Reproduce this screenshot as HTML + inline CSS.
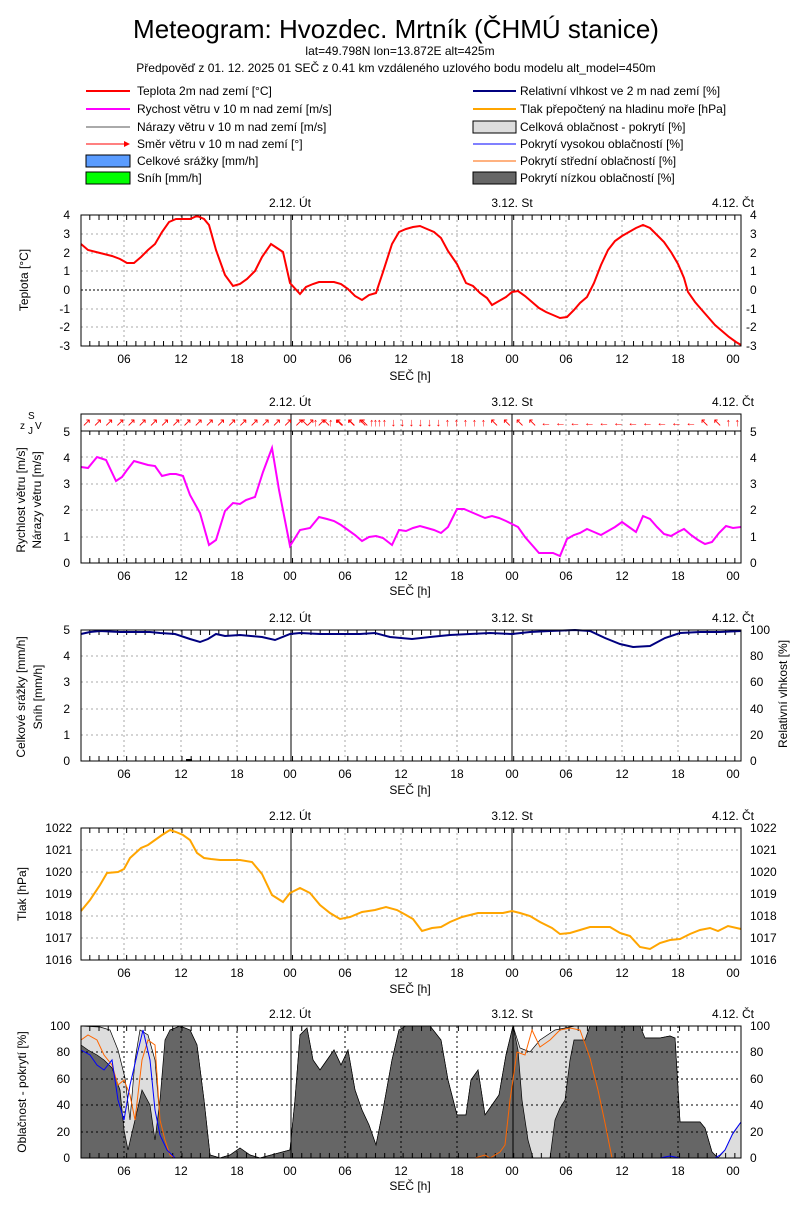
<!DOCTYPE html>
<html><head><meta charset="utf-8"><style>
body{margin:0;background:#fff}
svg text{font-family:"Liberation Sans",sans-serif;font-size:12px;fill:#000}
</style></head><body>
<svg width="800" height="1200" xmlns="http://www.w3.org/2000/svg">
<defs>
<pattern id="hx" x="89.3" y="0" width="9.215" height="20" patternUnits="userSpaceOnUse"><rect width="1" height="20" fill="#000"/></pattern>
</defs>
<rect width="800" height="1200" fill="#fff"/>
<text x="396" y="38" text-anchor="middle" style="font-size:26px">Meteogram: Hvozdec. Mrtník (ČHMÚ stanice)</text>
<text x="400" y="55" text-anchor="middle">lat=49.798N lon=13.872E alt=425m</text>
<text x="396" y="72" text-anchor="middle">Předpověď z 01. 12. 2025 01 SEČ z 0.41 km vzdáleného uzlového bodu modelu alt_model=450m</text>
<!-- legend -->
<g stroke-width="2">
<line x1="86" y1="91" x2="130" y2="91" stroke="#f00"/>
<line x1="86" y1="109" x2="130" y2="109" stroke="#f0f"/>
<line x1="86" y1="127" x2="130" y2="127" stroke="#555" stroke-width="1"/>
<line x1="86" y1="144" x2="128" y2="144" stroke="#f00" stroke-width="1"/>
<line x1="473" y1="91" x2="516" y2="91" stroke="#00007f"/>
<line x1="473" y1="109" x2="516" y2="109" stroke="#ffa500"/>
<line x1="473" y1="144" x2="516" y2="144" stroke="#00f" stroke-width="1"/>
<line x1="473" y1="161" x2="516" y2="161" stroke="#f60" stroke-width="1"/>
</g>
<polygon points="124,141 130,144 124,147" fill="#f00"/>
<rect x="86" y="155" width="44" height="12" fill="#5a9cff" stroke="#000"/>
<rect x="86" y="172" width="44" height="12" fill="#0f0" stroke="#000"/>
<rect x="473" y="121" width="43" height="12" fill="#ddd" stroke="#000"/>
<rect x="473" y="172" width="43" height="12" fill="#666" stroke="#000"/>
<text x="137" y="95">Teplota 2m nad zemí [°C]</text>
<text x="137" y="113">Rychost větru v 10 m nad zemí [m/s]</text>
<text x="137" y="131">Nárazy větru v 10 m nad zemí [m/s]</text>
<text x="137" y="148">Směr větru v 10 m nad zemí [°]</text>
<text x="137" y="165">Celkové srážky [mm/h]</text>
<text x="137" y="182">Sníh [mm/h]</text>
<text x="520" y="95">Relativní vlhkost ve 2 m nad zemí [%]</text>
<text x="520" y="113">Tlak přepočtený na hladinu moře [hPa]</text>
<text x="520" y="131">Celková oblačnost - pokrytí [%]</text>
<text x="520" y="148">Pokrytí vysokou oblačností [%]</text>
<text x="520" y="165">Pokrytí střední oblačností [%]</text>
<text x="520" y="182">Pokrytí nízkou oblačností [%]</text>

<!-- ===== Panel 1 Temperature ===== -->
<g stroke="#aaa" stroke-dasharray="2,3">
<line x1="124" y1="215" x2="124" y2="346"/><line x1="181" y1="215" x2="181" y2="346"/><line x1="237" y1="215" x2="237" y2="346"/><line x1="345" y1="215" x2="345" y2="346"/><line x1="401" y1="215" x2="401" y2="346"/><line x1="457" y1="215" x2="457" y2="346"/><line x1="566" y1="215" x2="566" y2="346"/><line x1="622" y1="215" x2="622" y2="346"/><line x1="678" y1="215" x2="678" y2="346"/>
<line x1="81" y1="234" x2="741" y2="234"/><line x1="81" y1="253" x2="741" y2="253"/><line x1="81" y1="271" x2="741" y2="271"/><line x1="81" y1="309" x2="741" y2="309"/><line x1="81" y1="327" x2="741" y2="327"/>
</g>
<g stroke="#000"><line x1="291" y1="215" x2="291" y2="346"/><line x1="512" y1="215" x2="512" y2="346"/></g>
<rect x="81" y="341" width="660" height="5" fill="url(#hx)"/><rect x="81" y="215" width="660" height="5" fill="url(#hx)"/>
<line x1="81" y1="290" x2="741" y2="290" stroke="#000" stroke-dasharray="2,2"/>
<polyline fill="none" stroke="#f00" stroke-width="2" points="81,244 88,250 100,253 112,256 120,259 127,263 134,263 141,257 148,250 155,244 162,232 169,222 176,219 183,219 190,219 197,216 204,219 209,225 216,250 225,275 233,286 240,284 247,279 255,271 262,257 271,244 277,248 283,252 290,283 300,294 306,287 313,284 319,282 327,282 334,282 341,284 348,289 355,296 362,300 369,295 376,293 383,272 392,244 399,232 406,229 413,227 420,226 427,229 434,232 441,238 448,251 457,264 466,283 473,286 480,293 487,298 492,305 499,301 506,297 512,292 518,291 525,296 532,302 539,308 546,312 553,315 560,318 567,317 574,310 580,303 587,297 594,283 601,265 608,250 615,241 622,236 629,232 636,228 643,225 650,228 657,235 664,242 671,252 678,264 684,278 688,292 695,302 701,309 708,317 715,325 722,331 729,337 736,342 741,345"/>
<rect x="81" y="215" width="660" height="131" fill="none" stroke="#000"/>
<g text-anchor="end"><text x="70" y="219">4</text><text x="70" y="238">3</text><text x="70" y="257">2</text><text x="70" y="275">1</text><text x="70" y="294">0</text><text x="70" y="313">-1</text><text x="70" y="331">-2</text><text x="70" y="350">-3</text></g>
<g><text x="750" y="219">4</text><text x="750" y="238">3</text><text x="750" y="257">2</text><text x="750" y="275">1</text><text x="750" y="294">0</text><text x="746" y="313">-1</text><text x="746" y="331">-2</text><text x="746" y="350">-3</text></g>
<g text-anchor="middle"><text x="124" y="363">06</text><text x="181" y="363">12</text><text x="237" y="363">18</text><text x="290" y="363">00</text><text x="345" y="363">06</text><text x="401" y="363">12</text><text x="457" y="363">18</text><text x="512" y="363">00</text><text x="566" y="363">06</text><text x="622" y="363">12</text><text x="678" y="363">18</text><text x="733" y="363">00</text>
<text x="410" y="380">SEČ [h]</text>
<text x="290" y="207">2.12. Út</text><text x="512" y="207">3.12. St</text><text x="733" y="207">4.12. Čt</text></g>
<text transform="translate(28,280) rotate(-90)" text-anchor="middle">Teplota [°C]</text>

<!-- ===== Panel 2 Wind ===== -->
<g stroke="#aaa" stroke-dasharray="2,3">
<line x1="124" y1="414" x2="124" y2="563"/><line x1="181" y1="414" x2="181" y2="563"/><line x1="237" y1="414" x2="237" y2="563"/><line x1="345" y1="414" x2="345" y2="563"/><line x1="401" y1="414" x2="401" y2="563"/><line x1="457" y1="414" x2="457" y2="563"/><line x1="566" y1="414" x2="566" y2="563"/><line x1="622" y1="414" x2="622" y2="563"/><line x1="678" y1="414" x2="678" y2="563"/>
<line x1="81" y1="457" x2="741" y2="457"/><line x1="81" y1="484" x2="741" y2="484"/><line x1="81" y1="510" x2="741" y2="510"/><line x1="81" y1="537" x2="741" y2="537"/>
</g>
<g stroke="#000"><line x1="291" y1="414" x2="291" y2="563"/><line x1="512" y1="414" x2="512" y2="563"/></g>
<rect x="81" y="558" width="660" height="5" fill="url(#hx)"/><rect x="81" y="431" width="660" height="4" fill="url(#hx)"/>
<text x="82" y="426" style="font-size:11px;fill:#f00" textLength="300" lengthAdjust="spacing">↗↗↗↗↗↗↗↗↗↗↗↗↗↗↗↗↗↗↗↗↗↗↑↖↖↖↑↑</text>
<text x="300" y="426" style="font-size:11px;fill:#f00" textLength="440" lengthAdjust="spacing">↖↑↖↖↖↖↑↑↓↓↓↓↓↓↑↑↑↑↑↖↖↖↖←←←←←←←←←←←↖↖↑↑</text>
<line x1="81" y1="431" x2="741" y2="431" stroke="#000"/>
<polyline fill="none" stroke="#f0f" stroke-width="2" points="81,467 88,468 97,457 106,460 116,481 122,477 127,470 134,461 141,463 148,465 155,466 162,476 170,474 176,474 183,476 190,495 200,513 209,545 216,540 225,511 233,503 240,504 246,500 255,497 263,472 272,448 279,490 290,546 300,530 310,528 319,517 327,519 334,521 341,525 348,530 355,535 362,541 369,537 376,536 383,538 392,545 399,530 406,531 413,528 420,526 427,528 434,530 441,533 448,527 457,509 464,509 471,512 478,515 485,518 492,516 499,518 506,521 512,524 518,527 525,537 532,545 539,553 546,553 553,553 560,556 567,539 574,535 580,533 587,529 594,532 601,535 608,531 615,527 622,522 629,527 636,532 643,516 650,519 657,527 664,534 671,536 678,532 684,529 691,535 698,540 705,544 712,542 719,533 726,526 733,528 741,527"/>
<rect x="81" y="414" width="660" height="149" fill="none" stroke="#000"/>
<g text-anchor="end"><text x="70" y="436">5</text><text x="70" y="462">4</text><text x="70" y="488">3</text><text x="70" y="514">2</text><text x="70" y="541">1</text><text x="70" y="567">0</text></g>
<g><text x="750" y="436">5</text><text x="750" y="462">4</text><text x="750" y="488">3</text><text x="750" y="514">2</text><text x="750" y="541">1</text><text x="750" y="567">0</text></g>
<text x="20" y="429" style="font-size:10px">z</text><text x="28" y="419" style="font-size:10px">S</text><text x="28" y="434" style="font-size:10px">J</text><text x="35" y="429" style="font-size:10px">V</text>
<g text-anchor="middle"><text x="124" y="580">06</text><text x="181" y="580">12</text><text x="237" y="580">18</text><text x="290" y="580">00</text><text x="345" y="580">06</text><text x="401" y="580">12</text><text x="457" y="580">18</text><text x="512" y="580">00</text><text x="566" y="580">06</text><text x="622" y="580">12</text><text x="678" y="580">18</text><text x="733" y="580">00</text>
<text x="410" y="595">SEČ [h]</text>
<text x="290" y="406">2.12. Út</text><text x="512" y="406">3.12. St</text><text x="733" y="406">4.12. Čt</text></g>
<text transform="translate(25,500) rotate(-90)" text-anchor="middle">Rychlost větru [m/s]</text>
<text transform="translate(41,500) rotate(-90)" text-anchor="middle">Nárazy větru [m/s]</text>

<!-- ===== Panel 3 Precip / RH ===== -->
<g stroke="#aaa" stroke-dasharray="2,3">
<line x1="124" y1="630" x2="124" y2="761"/><line x1="181" y1="630" x2="181" y2="761"/><line x1="237" y1="630" x2="237" y2="761"/><line x1="345" y1="630" x2="345" y2="761"/><line x1="401" y1="630" x2="401" y2="761"/><line x1="457" y1="630" x2="457" y2="761"/><line x1="566" y1="630" x2="566" y2="761"/><line x1="622" y1="630" x2="622" y2="761"/><line x1="678" y1="630" x2="678" y2="761"/>
<line x1="81" y1="656" x2="741" y2="656"/><line x1="81" y1="682" x2="741" y2="682"/><line x1="81" y1="709" x2="741" y2="709"/><line x1="81" y1="735" x2="741" y2="735"/>
</g>
<g stroke="#000"><line x1="291" y1="630" x2="291" y2="761"/><line x1="512" y1="630" x2="512" y2="761"/></g>
<rect x="81" y="756" width="660" height="5" fill="url(#hx)"/><rect x="81" y="630" width="660" height="5" fill="url(#hx)"/>
<line x1="186" y1="760" x2="192" y2="760" stroke="#000" stroke-width="2"/>
<polyline fill="none" stroke="#00007f" stroke-width="2" points="81,634 90,632 100,631 120,632 140,632 150,632 160,633 175,634 190,639 200,642 208,639 216,634 225,636 240,635 262,637 275,640 290,634 300,633 320,634 340,634 360,634 375,633 390,637 412,639 430,637 450,635 470,634 490,633 512,634 530,632 550,631 575,630 590,631 605,638 620,644 633,647 650,646 665,638 680,633 700,632 720,632 741,631"/>
<rect x="81" y="630" width="660" height="131" fill="none" stroke="#000"/>
<g text-anchor="end"><text x="70" y="634">5</text><text x="70" y="660">4</text><text x="70" y="686">3</text><text x="70" y="713">2</text><text x="70" y="739">1</text><text x="70" y="765">0</text></g>
<g><text x="750" y="634">100</text><text x="750" y="660">80</text><text x="750" y="686">60</text><text x="750" y="713">40</text><text x="750" y="739">20</text><text x="750" y="765">0</text></g>
<g text-anchor="middle"><text x="124" y="778">06</text><text x="181" y="778">12</text><text x="237" y="778">18</text><text x="290" y="778">00</text><text x="345" y="778">06</text><text x="401" y="778">12</text><text x="457" y="778">18</text><text x="512" y="778">00</text><text x="566" y="778">06</text><text x="622" y="778">12</text><text x="678" y="778">18</text><text x="733" y="778">00</text>
<text x="410" y="794">SEČ [h]</text>
<text x="290" y="622">2.12. Út</text><text x="512" y="622">3.12. St</text><text x="733" y="622">4.12. Čt</text></g>
<text transform="translate(25,697) rotate(-90)" text-anchor="middle">Celkové srážky [mm/h]</text>
<text transform="translate(42,697) rotate(-90)" text-anchor="middle">Sníh [mm/h]</text>
<text transform="translate(787,694) rotate(-90)" text-anchor="middle">Relativní vlhkost [%]</text>

<!-- ===== Panel 4 Pressure ===== -->
<g stroke="#aaa" stroke-dasharray="2,3">
<line x1="124" y1="828" x2="124" y2="960"/><line x1="181" y1="828" x2="181" y2="960"/><line x1="237" y1="828" x2="237" y2="960"/><line x1="345" y1="828" x2="345" y2="960"/><line x1="401" y1="828" x2="401" y2="960"/><line x1="457" y1="828" x2="457" y2="960"/><line x1="566" y1="828" x2="566" y2="960"/><line x1="622" y1="828" x2="622" y2="960"/><line x1="678" y1="828" x2="678" y2="960"/>
<line x1="81" y1="850" x2="741" y2="850"/><line x1="81" y1="872" x2="741" y2="872"/><line x1="81" y1="894" x2="741" y2="894"/><line x1="81" y1="916" x2="741" y2="916"/><line x1="81" y1="938" x2="741" y2="938"/>
</g>
<g stroke="#000"><line x1="291" y1="828" x2="291" y2="960"/><line x1="512" y1="828" x2="512" y2="960"/></g>
<rect x="81" y="955" width="660" height="5" fill="url(#hx)"/><rect x="81" y="828" width="660" height="5" fill="url(#hx)"/>
<polyline fill="none" stroke="#ffa500" stroke-width="2" points="81,911 90,900 100,885 107,873 118,872 124,869 130,858 141,848 148,845 155,840 162,835 170,830 176,832 183,835 190,840 197,853 204,858 211,859 220,860 230,860 240,860 252,862 262,874 272,895 283,902 290,893 300,888 310,893 320,905 330,913 340,919 350,917 362,912 375,910 386,907 397,910 406,915 413,919 422,931 432,928 441,927 450,922 462,917 470,915 478,913 490,913 503,913 512,911 520,913 530,916 540,922 552,928 560,934 570,933 580,930 590,927 610,927 620,933 630,936 640,947 650,949 660,943 670,940 680,939 690,934 700,930 710,928 718,931 728,926 741,929"/>
<rect x="81" y="828" width="660" height="132" fill="none" stroke="#000"/>
<g text-anchor="end"><text x="72" y="832">1022</text><text x="72" y="854">1021</text><text x="72" y="876">1020</text><text x="72" y="898">1019</text><text x="72" y="920">1018</text><text x="72" y="942">1017</text><text x="72" y="964">1016</text></g>
<g><text x="750" y="832">1022</text><text x="750" y="854">1021</text><text x="750" y="876">1020</text><text x="750" y="898">1019</text><text x="750" y="920">1018</text><text x="750" y="942">1017</text><text x="750" y="964">1016</text></g>
<g text-anchor="middle"><text x="124" y="977">06</text><text x="181" y="977">12</text><text x="237" y="977">18</text><text x="290" y="977">00</text><text x="345" y="977">06</text><text x="401" y="977">12</text><text x="457" y="977">18</text><text x="512" y="977">00</text><text x="566" y="977">06</text><text x="622" y="977">12</text><text x="678" y="977">18</text><text x="733" y="977">00</text>
<text x="410" y="993">SEČ [h]</text>
<text x="290" y="820">2.12. Út</text><text x="512" y="820">3.12. St</text><text x="733" y="820">4.12. Čt</text></g>
<text transform="translate(26,894) rotate(-90)" text-anchor="middle">Tlak [hPa]</text>

<!-- ===== Panel 5 Clouds ===== -->
<polygon fill="#ddd" stroke="#000" stroke-width="0.7" points="81,1158 81,1026 100,1027 110,1030 118,1050 125,1078 130,1120 135,1060 140,1030 148,1035 155,1060 160,1120 165,1045 170,1030 180,1026 190,1030 197,1045 204,1100 210,1155 220,1158 230,1155 240,1148 250,1155 260,1158 290,1150 295,1100 300,1035 307,1028 313,1060 320,1070 327,1060 334,1050 341,1065 348,1050 355,1090 362,1110 369,1125 376,1145 383,1110 392,1060 399,1030 406,1026 430,1026 441,1040 448,1080 457,1115 466,1115 471,1080 478,1070 485,1115 492,1105 499,1095 506,1055 513,1026 520,1048 530,1052 540,1040 555,1030 575,1026 625,1026 636,1030 645,1038 660,1038 670,1036 675,1038 680,1122 700,1122 705,1128 712,1152 718,1158 725,1150 732,1135 741,1122 741,1158"/>
<polygon fill="#666" stroke="#000" stroke-width="0.7" points="81,1158 81,1045 88,1050 97,1055 104,1060 112,1068 120,1090 124,1130 128,1150 135,1120 142,1090 150,1105 155,1140 160,1100 165,1040 170,1030 180,1026 190,1030 197,1045 204,1100 210,1155 220,1158 230,1155 240,1148 250,1155 260,1158 290,1150 295,1100 300,1035 307,1028 313,1060 320,1070 327,1060 334,1050 341,1065 348,1050 355,1090 362,1110 369,1125 376,1145 383,1110 392,1060 399,1030 406,1026 430,1026 441,1040 448,1080 457,1115 466,1115 471,1080 478,1070 485,1115 492,1105 499,1095 506,1055 513,1026 518,1050 522,1100 528,1140 533,1158 550,1158 555,1120 560,1108 565,1100 570,1060 574,1040 585,1040 590,1026 640,1026 645,1038 660,1038 670,1036 675,1038 680,1122 700,1122 705,1128 712,1152 718,1158 741,1158"/>
<g stroke="#000" stroke-dasharray="2,3">
<line x1="124" y1="1026" x2="124" y2="1158"/><line x1="181" y1="1026" x2="181" y2="1158"/><line x1="237" y1="1026" x2="237" y2="1158"/><line x1="345" y1="1026" x2="345" y2="1158"/><line x1="401" y1="1026" x2="401" y2="1158"/><line x1="457" y1="1026" x2="457" y2="1158"/><line x1="566" y1="1026" x2="566" y2="1158"/><line x1="622" y1="1026" x2="622" y2="1158"/><line x1="678" y1="1026" x2="678" y2="1158"/>
<line x1="81" y1="1052" x2="741" y2="1052"/><line x1="81" y1="1079" x2="741" y2="1079"/><line x1="81" y1="1105" x2="741" y2="1105"/><line x1="81" y1="1132" x2="741" y2="1132"/>
</g>
<g stroke="#000"><line x1="291" y1="1026" x2="291" y2="1158"/><line x1="513" y1="1026" x2="513" y2="1158"/></g>
<rect x="81" y="1153" width="660" height="5" fill="url(#hx)"/><rect x="81" y="1026" width="660" height="5" fill="url(#hx)"/>
<polyline fill="none" stroke="#f60" stroke-width="1" points="81,1040 88,1035 97,1040 104,1055 112,1065 118,1085 124,1080 130,1095 135,1120 142,1060 148,1040 155,1045 160,1120 165,1140 170,1155 175,1158 475,1158 485,1155 490,1158 500,1152 505,1145 510,1100 517,1052 525,1055 532,1030 540,1047 550,1040 560,1030 570,1028 580,1030 590,1058 598,1090 605,1123 612,1158 741,1158"/>
<polyline fill="none" stroke="#00f" stroke-width="1" points="81,1050 90,1055 97,1065 104,1070 112,1060 118,1100 124,1120 130,1085 137,1055 143,1030 150,1060 155,1110 160,1135 167,1150 175,1158 660,1158 670,1156 680,1158 715,1158 720,1155 725,1150 733,1133 741,1122"/>
<rect x="81" y="1026" width="660" height="132" fill="none" stroke="#000"/>
<g text-anchor="end"><text x="70" y="1030">100</text><text x="70" y="1056">80</text><text x="70" y="1083">60</text><text x="70" y="1109">40</text><text x="70" y="1136">20</text><text x="70" y="1162">0</text></g>
<g><text x="750" y="1030">100</text><text x="750" y="1056">80</text><text x="750" y="1083">60</text><text x="750" y="1109">40</text><text x="750" y="1136">20</text><text x="750" y="1162">0</text></g>
<g text-anchor="middle"><text x="124" y="1175">06</text><text x="181" y="1175">12</text><text x="237" y="1175">18</text><text x="290" y="1175">00</text><text x="345" y="1175">06</text><text x="401" y="1175">12</text><text x="457" y="1175">18</text><text x="512" y="1175">00</text><text x="566" y="1175">06</text><text x="622" y="1175">12</text><text x="678" y="1175">18</text><text x="733" y="1175">00</text>
<text x="410" y="1190">SEČ [h]</text>
<text x="290" y="1018">2.12. Út</text><text x="512" y="1018">3.12. St</text><text x="733" y="1018">4.12. Čt</text></g>
<text transform="translate(26,1092) rotate(-90)" text-anchor="middle">Oblačnost - pokrytí [%]</text>
</svg>
</body></html>
